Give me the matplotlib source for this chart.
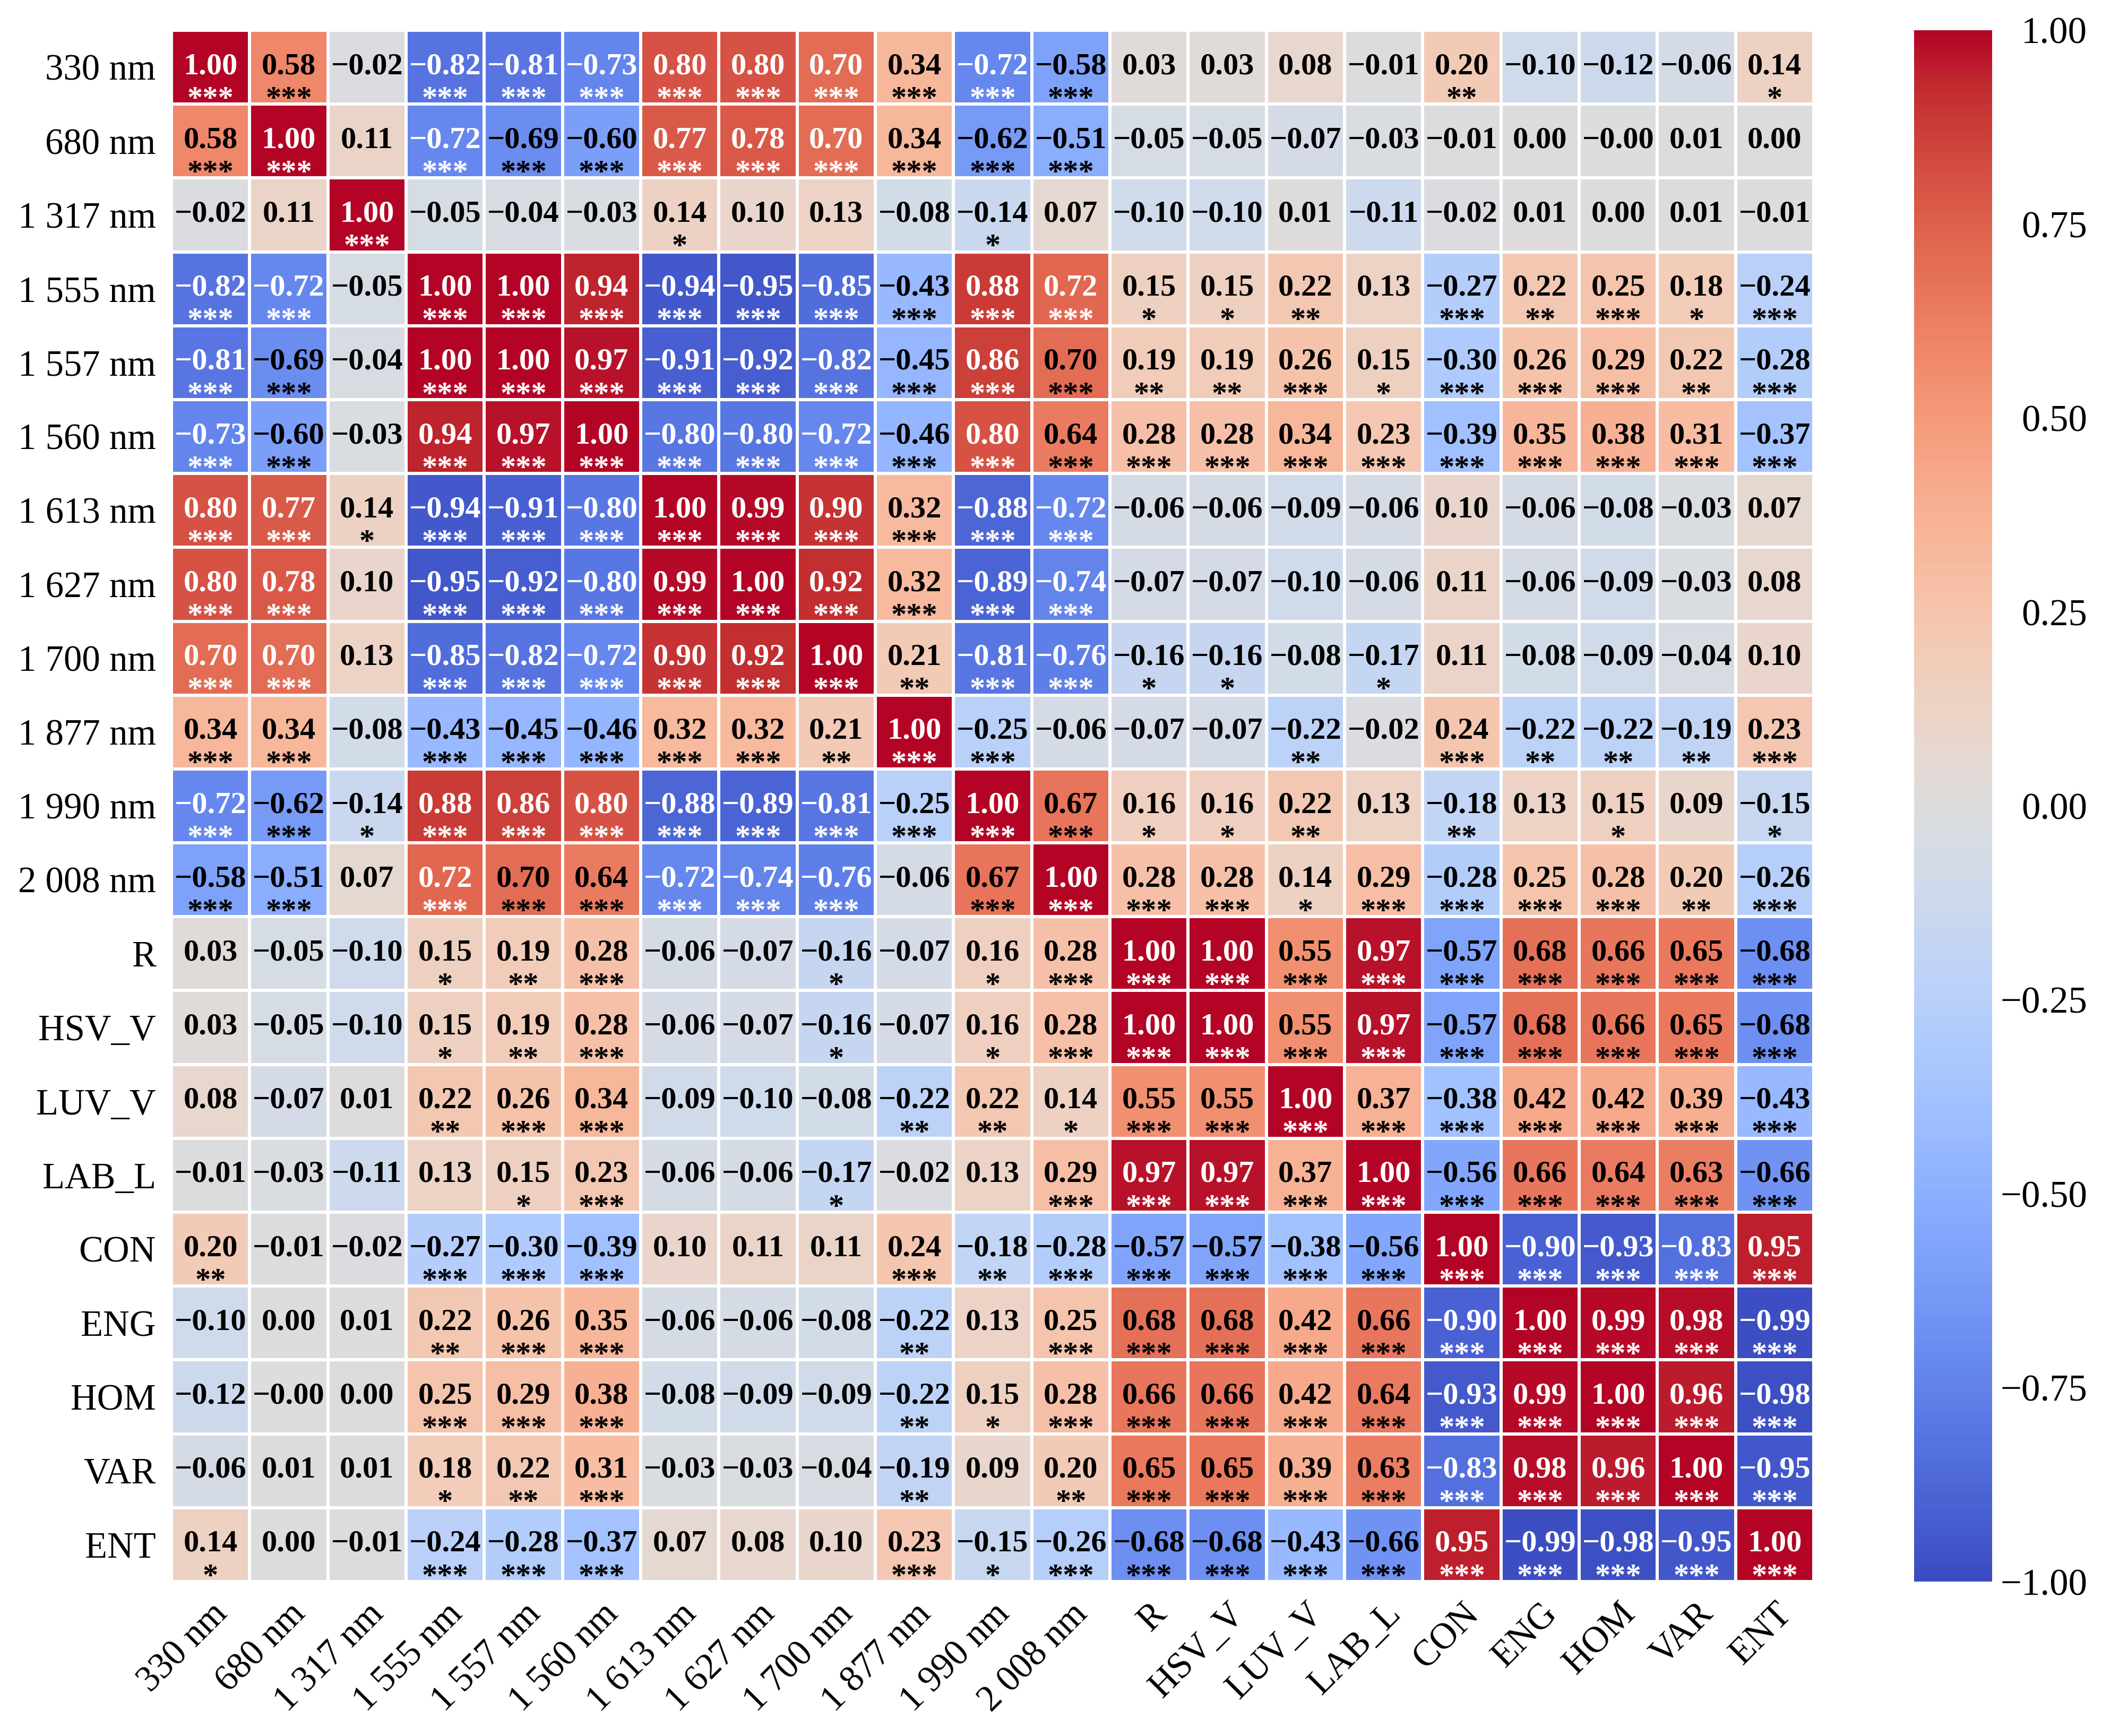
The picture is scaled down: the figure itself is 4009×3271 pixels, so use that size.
import numpy as np
import matplotlib
matplotlib.use("Agg")
import matplotlib.pyplot as plt
from matplotlib.ticker import FuncFormatter

plt.rcParams['font.family'] = ['Liberation Serif', 'DejaVu Serif']

labels = ["330 nm", "680 nm", "1 317 nm", "1 555 nm", "1 557 nm", "1 560 nm",
          "1 613 nm", "1 627 nm", "1 700 nm", "1 877 nm", "1 990 nm", "2 008 nm",
          "R", "HSV_V", "LUV_V", "LAB_L", "CON", "ENG", "HOM", "VAR", "ENT"]

corr = [
    [1.00, 0.58, -0.02, -0.82, -0.81, -0.73, 0.80, 0.80, 0.703, 0.34, -0.72, -0.58, 0.03, 0.03, 0.08, -0.01, 0.20, -0.10, -0.12, -0.06, 0.14],
    [0.58, 1.00, 0.11, -0.72, -0.69, -0.60, 0.77, 0.78, 0.703, 0.34, -0.62, -0.51, -0.05, -0.05, -0.07, -0.03, -0.01, 0.00, -0.001, 0.01, 0.00],
    [-0.02, 0.11, 1.00, -0.05, -0.04, -0.03, 0.14, 0.10, 0.13, -0.08, -0.14, 0.07, -0.10, -0.10, 0.01, -0.11, -0.02, 0.01, 0.00, 0.01, -0.01],
    [-0.82, -0.72, -0.05, 1.00, 1.00, 0.94, -0.94, -0.95, -0.85, -0.43, 0.88, 0.72, 0.15, 0.15, 0.22, 0.13, -0.27, 0.22, 0.25, 0.18, -0.24],
    [-0.81, -0.69, -0.04, 1.00, 1.00, 0.97, -0.91, -0.92, -0.82, -0.45, 0.86, 0.698, 0.19, 0.19, 0.26, 0.15, -0.30, 0.26, 0.29, 0.22, -0.28],
    [-0.73, -0.60, -0.03, 0.94, 0.97, 1.00, -0.80, -0.80, -0.72, -0.46, 0.80, 0.64, 0.28, 0.28, 0.34, 0.23, -0.39, 0.35, 0.38, 0.31, -0.37],
    [0.80, 0.77, 0.14, -0.94, -0.91, -0.80, 1.00, 0.99, 0.90, 0.32, -0.88, -0.72, -0.06, -0.06, -0.09, -0.06, 0.10, -0.06, -0.08, -0.03, 0.07],
    [0.80, 0.78, 0.10, -0.95, -0.92, -0.80, 0.99, 1.00, 0.92, 0.32, -0.89, -0.74, -0.07, -0.07, -0.10, -0.06, 0.11, -0.06, -0.09, -0.03, 0.08],
    [0.703, 0.703, 0.13, -0.85, -0.82, -0.72, 0.90, 0.92, 1.00, 0.21, -0.81, -0.76, -0.16, -0.16, -0.08, -0.17, 0.11, -0.08, -0.09, -0.04, 0.10],
    [0.34, 0.34, -0.08, -0.43, -0.45, -0.46, 0.32, 0.32, 0.21, 1.00, -0.25, -0.06, -0.07, -0.07, -0.22, -0.02, 0.24, -0.22, -0.22, -0.19, 0.23],
    [-0.72, -0.62, -0.14, 0.88, 0.86, 0.80, -0.88, -0.89, -0.81, -0.25, 1.00, 0.67, 0.16, 0.16, 0.22, 0.13, -0.18, 0.13, 0.15, 0.09, -0.15],
    [-0.58, -0.51, 0.07, 0.72, 0.698, 0.64, -0.72, -0.74, -0.76, -0.06, 0.67, 1.00, 0.28, 0.28, 0.14, 0.29, -0.28, 0.25, 0.28, 0.20, -0.26],
    [0.03, -0.05, -0.10, 0.15, 0.19, 0.28, -0.06, -0.07, -0.16, -0.07, 0.16, 0.28, 1.00, 1.00, 0.55, 0.97, -0.57, 0.68, 0.66, 0.65, -0.68],
    [0.03, -0.05, -0.10, 0.15, 0.19, 0.28, -0.06, -0.07, -0.16, -0.07, 0.16, 0.28, 1.00, 1.00, 0.55, 0.97, -0.57, 0.68, 0.66, 0.65, -0.68],
    [0.08, -0.07, 0.01, 0.22, 0.26, 0.34, -0.09, -0.10, -0.08, -0.22, 0.22, 0.14, 0.55, 0.55, 1.00, 0.37, -0.38, 0.42, 0.42, 0.39, -0.43],
    [-0.01, -0.03, -0.11, 0.13, 0.15, 0.23, -0.06, -0.06, -0.17, -0.02, 0.13, 0.29, 0.97, 0.97, 0.37, 1.00, -0.56, 0.66, 0.64, 0.63, -0.66],
    [0.20, -0.01, -0.02, -0.27, -0.30, -0.39, 0.10, 0.11, 0.11, 0.24, -0.18, -0.28, -0.57, -0.57, -0.38, -0.56, 1.00, -0.90, -0.93, -0.83, 0.95],
    [-0.10, 0.00, 0.01, 0.22, 0.26, 0.35, -0.06, -0.06, -0.08, -0.22, 0.13, 0.25, 0.68, 0.68, 0.42, 0.66, -0.90, 1.00, 0.99, 0.98, -0.99],
    [-0.12, -0.001, 0.00, 0.25, 0.29, 0.38, -0.08, -0.09, -0.09, -0.22, 0.15, 0.28, 0.66, 0.66, 0.42, 0.64, -0.93, 0.99, 1.00, 0.96, -0.98],
    [-0.06, 0.01, 0.01, 0.18, 0.22, 0.31, -0.03, -0.03, -0.04, -0.19, 0.09, 0.20, 0.65, 0.65, 0.39, 0.63, -0.83, 0.98, 0.96, 1.00, -0.95],
    [0.14, 0.00, -0.01, -0.24, -0.28, -0.37, 0.07, 0.08, 0.10, 0.23, -0.15, -0.26, -0.68, -0.68, -0.43, -0.66, 0.95, -0.99, -0.98, -0.95, 1.00],
]

sig = [
    ["***", "***", "", "***", "***", "***", "***", "***", "***", "***", "***", "***", "", "", "", "", "**", "", "", "", "*"],
    ["***", "***", "", "***", "***", "***", "***", "***", "***", "***", "***", "***", "", "", "", "", "", "", "", "", ""],
    ["", "", "***", "", "", "", "*", "", "", "", "*", "", "", "", "", "", "", "", "", "", ""],
    ["***", "***", "", "***", "***", "***", "***", "***", "***", "***", "***", "***", "*", "*", "**", "", "***", "**", "***", "*", "***"],
    ["***", "***", "", "***", "***", "***", "***", "***", "***", "***", "***", "***", "**", "**", "***", "*", "***", "***", "***", "**", "***"],
    ["***", "***", "", "***", "***", "***", "***", "***", "***", "***", "***", "***", "***", "***", "***", "***", "***", "***", "***", "***", "***"],
    ["***", "***", "*", "***", "***", "***", "***", "***", "***", "***", "***", "***", "", "", "", "", "", "", "", "", ""],
    ["***", "***", "", "***", "***", "***", "***", "***", "***", "***", "***", "***", "", "", "", "", "", "", "", "", ""],
    ["***", "***", "", "***", "***", "***", "***", "***", "***", "**", "***", "***", "*", "*", "", "*", "", "", "", "", ""],
    ["***", "***", "", "***", "***", "***", "***", "***", "**", "***", "***", "", "", "", "**", "", "***", "**", "**", "**", "***"],
    ["***", "***", "*", "***", "***", "***", "***", "***", "***", "***", "***", "***", "*", "*", "**", "", "**", "", "*", "", "*"],
    ["***", "***", "", "***", "***", "***", "***", "***", "***", "", "***", "***", "***", "***", "*", "***", "***", "***", "***", "**", "***"],
    ["", "", "", "*", "**", "***", "", "", "*", "", "*", "***", "***", "***", "***", "***", "***", "***", "***", "***", "***"],
    ["", "", "", "*", "**", "***", "", "", "*", "", "*", "***", "***", "***", "***", "***", "***", "***", "***", "***", "***"],
    ["", "", "", "**", "***", "***", "", "", "", "**", "**", "*", "***", "***", "***", "***", "***", "***", "***", "***", "***"],
    ["", "", "", "", "*", "***", "", "", "*", "", "", "***", "***", "***", "***", "***", "***", "***", "***", "***", "***"],
    ["**", "", "", "***", "***", "***", "", "", "", "***", "**", "***", "***", "***", "***", "***", "***", "***", "***", "***", "***"],
    ["", "", "", "**", "***", "***", "", "", "", "**", "", "***", "***", "***", "***", "***", "***", "***", "***", "***", "***"],
    ["", "", "", "***", "***", "***", "", "", "", "**", "*", "***", "***", "***", "***", "***", "***", "***", "***", "***", "***"],
    ["", "", "", "*", "**", "***", "", "", "", "**", "", "**", "***", "***", "***", "***", "***", "***", "***", "***", "***"],
    ["*", "", "", "***", "***", "***", "", "", "", "***", "*", "***", "***", "***", "***", "***", "***", "***", "***", "***", "***"],
]

cbar_ticks = [-1.00, -0.75, -0.50, -0.25, 0.00, 0.25, 0.50, 0.75, 1.00]

data = np.array(corr)
n = len(labels)

W, H = 4009, 3271
fig = plt.figure(figsize=(W / 300, H / 300), dpi=300)
ax = fig.add_axes([323 / W, 1 - 2980 / H, (3417 - 323) / W, (2980 - 57) / H])
cax = fig.add_axes([3606 / W, 1 - 2980 / H, 147 / W, (2980 - 57) / H])

mesh = ax.pcolormesh(np.arange(n + 1), np.arange(n + 1), data, cmap="coolwarm",
                     vmin=-1, vmax=1, edgecolors="white", linewidth=1.0)
ax.set_xlim(0, n)
ax.set_ylim(n, 0)
for s in ax.spines.values():
    s.set_visible(False)

ax.set_xticks(np.arange(n) + 0.5)
ax.set_yticks(np.arange(n) + 0.5)
ax.set_xticklabels(labels, rotation=45, ha="right", va="top", rotation_mode="anchor", fontsize=16.5)
ax.set_yticklabels(labels, fontsize=16.5)
ax.tick_params(axis="both", length=0, pad=7)

for i in range(n):
    for j in range(n):
        v = data[i, j]
        col = "white" if abs(v) > 0.7 else "black"
        txt = f"{v:.2f}".replace("-", "\u2212")
        ax.text(j + 0.5, i + 0.59, txt, ha="center", va="baseline",
                fontsize=14, fontweight="bold", color=col)
        if sig[i][j]:
            ax.text(j + 0.5, i + 1.04, sig[i][j], ha="center", va="baseline",
                    fontsize=14, fontweight="bold", color=col)

cb = fig.colorbar(mesh, cax=cax)
cb.outline.set_visible(False)
cb.set_ticks(cbar_ticks)
cb.ax.yaxis.set_major_formatter(FuncFormatter(lambda x, p: f"{x:.2f}".replace("-", "\u2212")))
cb.ax.tick_params(length=0, pad=43, labelsize=17)
for t in cb.ax.get_yticklabels():
    t.set_ha("right")

fig.savefig("out.png", dpi=300)
